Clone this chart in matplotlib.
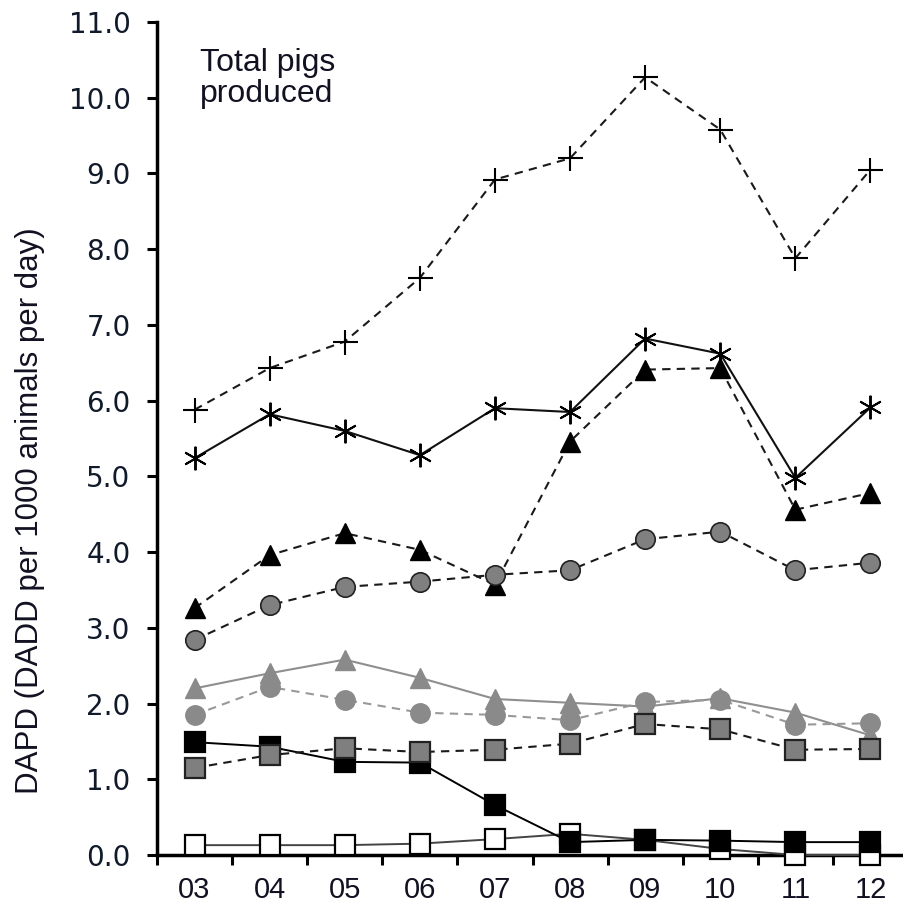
# -*- coding: utf-8 -*-
"""
DAPD per year, total pigs produced.
"""
import matplotlib
matplotlib.use("Agg")
import matplotlib.pyplot as plt

plt.rcParams['font.family'] = ['Liberation Sans', 'DejaVu Sans']

# --- data ---
years = ['03', '04', '05', '06', '07', '08', '09', '10', '11', '12']

plus_vals = [5.88, 6.43, 6.78, 7.62, 8.92, 9.20, 10.27, 9.58, 7.88, 9.05]
star_vals = [5.24, 5.82, 5.60, 5.28, 5.90, 5.85, 6.82, 6.62, 4.98, 5.91]
black_tri_vals = [3.26, 3.96, 4.25, 4.03, 3.57, 5.46, 6.41, 6.43, 4.56, 4.78]
dark_circle_vals = [2.84, 3.30, 3.54, 3.61, 3.70, 3.76, 4.17, 4.27, 3.76, 3.86]
grey_tri_vals = [2.20, 2.40, 2.58, 2.34, 2.06, 2.01, 1.96, 2.07, 1.88, 1.58]
grey_circle_vals = [1.85, 2.22, 2.05, 1.88, 1.85, 1.78, 2.02, 2.05, 1.72, 1.74]
white_sq_vals = [0.13, 0.13, 0.13, 0.15, 0.21, 0.28, 0.20, 0.08, 0.00, 0.00]
black_sq_vals = [1.49, 1.43, 1.23, 1.22, 0.66, 0.17, 0.20, 0.19, 0.17, 0.17]
grey_sq_vals = [1.15, 1.32, 1.41, 1.36, 1.39, 1.47, 1.73, 1.66, 1.39, 1.40]

y_ticks = list(range(0, 12))

DASH = (0, (4.0, 3.0))
TXT = '#111122'


def plot_dapd():
    fig = plt.figure(figsize=(9.04, 9.05), dpi=100)
    # axis runs off the right edge like the original
    ax = fig.add_axes([157 / 904, 50 / 905, 751 / 904, 833 / 905])
    x = list(range(len(years)))

    ax.plot(x, plus_vals, linestyle=DASH, color='#1a1a1a', lw=1.5,
            marker='+', ms=18, mew=1.5, mec='black', zorder=3)
    ax.plot(x, star_vals, linestyle='-', color='#111111', lw=1.5,
            marker=(6, 2, 0), ms=17, mew=1.4, mec='black', zorder=3)
    ax.plot(x, black_tri_vals, linestyle=DASH, color='#1a1a1a', lw=1.5,
            marker='^', ms=14, mfc='black', mec='black', zorder=4)
    ax.plot(x, dark_circle_vals, linestyle=DASH, color='#1a1a1a', lw=1.5,
            marker='o', ms=14, mfc='#808080', mec='#222222', mew=1.2, zorder=5)
    ax.plot(x, grey_tri_vals, linestyle='-', color='#8f8f8f', lw=1.5,
            marker='^', ms=14, mfc='#8a8a8a', mec='#8a8a8a', zorder=5)
    ax.plot(x, grey_circle_vals, linestyle=DASH, color='#999999', lw=1.5,
            marker='o', ms=14, mfc='#8a8a8a', mec='#8a8a8a', zorder=5)
    ax.plot(x, white_sq_vals, linestyle='-', color='#444444', lw=1.4,
            marker='s', ms=14, mfc='white', mec='black', mew=1.6, zorder=6,
            clip_on=False)
    ax.plot(x, black_sq_vals, linestyle='-', color='black', lw=1.4,
            marker='s', ms=14, mfc='black', mec='black', mew=1.6, zorder=7,
            clip_on=False)
    ax.plot(x, grey_sq_vals, linestyle=DASH, color='#1a1a1a', lw=1.5,
            marker='s', ms=14, mfc='#7f7f7f', mec='#222222', mew=1.6, zorder=8)

    ax.set_xlim(-0.5, 9.5)
    ax.set_ylim(0, 11)

    # ticks sit between the years, labels in the middle
    ax.set_xticks([i - 0.5 for i in range(len(years))])
    ax.set_xticklabels([])
    ax.set_xticks(x, minor=True)
    ax.set_xticklabels(years, minor=True, fontsize=21, color=TXT)
    ax.tick_params(axis='x', which='major', direction='out', length=7, width=2.2)
    ax.tick_params(axis='x', which='minor', length=0, pad=15)

    ax.set_yticks(y_ticks)
    ax.set_yticklabels([f"{v:.1f}" for v in y_ticks], fontsize=20,
                       family='DejaVu Sans', color='#111a2a')
    ax.tick_params(axis='y', direction='out', length=7, width=2.2, pad=12)

    for side in ['top', 'right']:
        ax.spines[side].set_visible(False)
    for side in ['left', 'bottom']:
        ax.spines[side].set_linewidth(2.5)

    fig.text(30 / 904, 1 - 511 / 905, "DAPD (DADD per 1000 animals per day)",
             rotation=90, ha='center', va='center', fontsize=22.5, color=TXT)
    fig.text(200 / 904, 1 - 48 / 905, "Total pigs\nproduced",
             ha='left', va='top', fontsize=23, linespacing=1.05, color=TXT)

    fig.savefig("out.png", dpi=100)
    plt.close(fig)


def main():
    plot_dapd()


if __name__ == "__main__":
    main()
